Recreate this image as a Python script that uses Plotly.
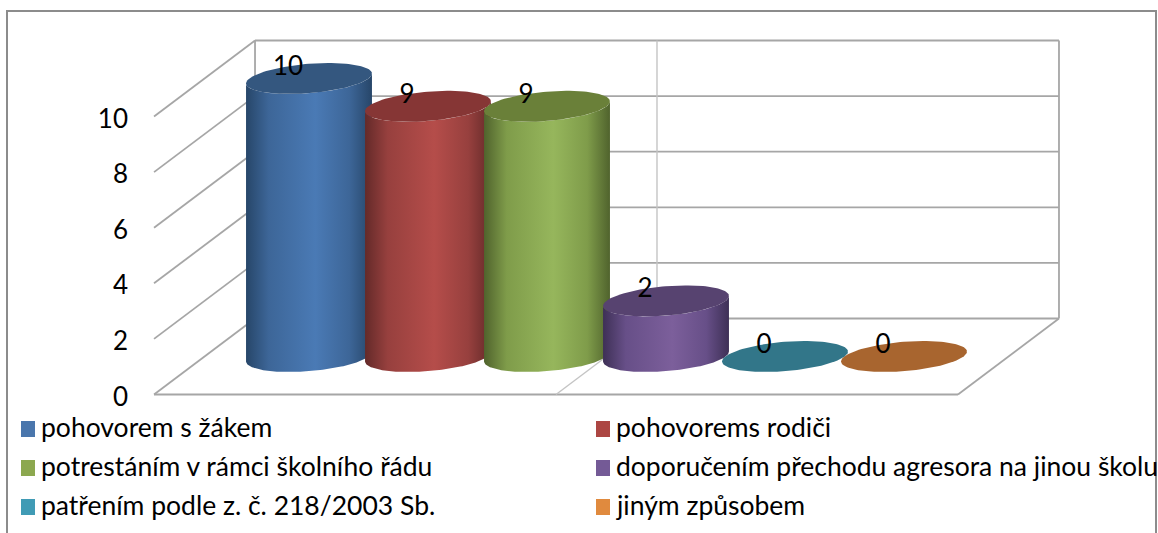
"""3D-look cylinder chart, drawn with an oblique projection on plain cartesian axes."""

import numpy as np
import plotly.graph_objects as go

categories = [
    "pohovorem s žákem",
    "pohovorems rodiči",
    "potrestáním v rámci školního řádu",
    "doporučením přechodu agresora na jinou školu",
    "patřením podle z. č. 218/2003 Sb.",
    "jiným způsobem",
]
values = [10, 9, 9, 2, 0, 0]
value_ticks = [0, 2, 4, 6, 8, 10]

swatch_colors = ["#4A76AC", "#AC4643", "#8CA84F", "#745A96", "#409BB5", "#E08A3E"]
edge_colors = ["#274669", "#642A29", "#50632D", "#3E3056", "#2A5F6E", "#8A5426"]
mid_colors = ["#3D6698", "#97403E", "#7F9C4A", "#674F88", "#3A8AA1", "#C87B38"]
light_colors = ["#4A7AB5", "#B54D4A", "#96B65C", "#7C5F9B", "#47A5BF", "#E8913F"]
top_colors = ["#34577F", "#863635", "#6A8039", "#574370", "#327689", "#A8652F"]

# pixel scale of the axes
W, H = 1158, 533
PX_PER_CAT = 119.0
PX_PER_VALUE = 27.8
CAT0_PX = 309.0
BASE_PX = 394.5

# oblique depth vector and floor extent
DEPTH_X = 101.0 / PX_PER_CAT
DEPTH_Y = 76.0 / PX_PER_VALUE
FLOOR_PAD = 0.878

# cylinder footprint (pixels)
RADIUS_A = 59.7
RADIUS_BX = 20.0
RADIUS_BY = 15.5

FONT = "Lato"
GRID = "#A6A6A6"
GRID_LIGHT = "#C4C4C4"


def project(cat, value, depth):
    return cat + (depth - 0.5) * DEPTH_X, value + depth * DEPTH_Y


def ellipse(cat, value, angles):
    cx, cy = project(cat, value, 0.5)
    x = cx + (RADIUS_A * np.cos(angles) + RADIUS_BX * np.sin(angles)) / PX_PER_CAT
    y = cy + RADIUS_BY * np.sin(angles) / PX_PER_VALUE
    return x, y


def segments(pairs):
    xs, ys = [], []
    for start, end in pairs:
        xs += [start[0], end[0], None]
        ys += [start[1], end[1], None]
    return xs, ys


left = -FLOOR_PAD
right = len(categories) - 1 + FLOOR_PAD
mid = (left + right) / 2
top = value_ticks[-1]

fig = go.Figure()

# back wall and side wall
wall_pairs = []
for tick in value_ticks:
    wall_pairs.append((project(left, tick, 1), project(right, tick, 1)))
    wall_pairs.append((project(left, tick, 0), project(left, tick, 1)))
wall_pairs.append((project(left, 0, 1), project(left, top, 1)))
wall_pairs.append((project(right, 0, 1), project(right, top, 1)))
wall_pairs.append((project(left, 0, 0), project(right, 0, 0)))
wall_pairs.append((project(right, 0, 0), project(right, 0, 1)))
x, y = segments(wall_pairs)
fig.add_trace(go.Scatter(x=x, y=y, mode="lines", line={"color": GRID, "width": 1.8}))

x, y = segments([(project(mid, 0, 1), project(mid, top, 1)), (project(mid, 0, 0), project(mid, 0, 1))])
fig.add_trace(go.Scatter(x=x, y=y, mode="lines", line={"color": GRID_LIGHT, "width": 1.4}))

# cylinders, left to right so each one sits over its neighbour
turn = np.arctan2(RADIUS_BX, RADIUS_A)
for i, value in enumerate(values):
    if value > 0:
        arc = np.linspace(turn, turn - np.pi, 80)
        bx, by = ellipse(i, 0, arc)
        tx, ty = ellipse(i, value, arc[::-1])
        fig.add_trace(
            go.Scatter(
                x=np.concatenate([bx, tx]),
                y=np.concatenate([by, ty]),
                mode="lines",
                line={"width": 0},
                fill="toself",
                fillgradient={
                    "type": "horizontal",
                    "colorscale": [
                        [0, edge_colors[i]],
                        [0.18, mid_colors[i]],
                        [0.55, light_colors[i]],
                        [0.82, mid_colors[i]],
                        [1, edge_colors[i]],
                    ],
                },
            )
        )
    tx, ty = ellipse(i, value, np.linspace(0, 2 * np.pi, 120))
    fig.add_trace(
        go.Scatter(x=tx, y=ty, mode="lines", line={"width": 0}, fill="toself", fillcolor=top_colors[i])
    )

# value labels sit up and left of each top face
label_x, label_y = [], []
for i, value in enumerate(values):
    cx, cy = project(i, value, 0.5)
    label_x.append(cx - 21 / PX_PER_CAT)
    label_y.append(cy + 10 / PX_PER_VALUE)
fig.add_trace(
    go.Scatter(
        x=label_x,
        y=label_y,
        mode="text",
        text=[str(v) for v in values],
        textposition="middle center",
        textfont={"family": FONT, "size": 26, "color": "#000000"},
    )
)

# legend, two columns
shapes = [
    {
        "type": "path",
        "xref": "paper",
        "yref": "paper",
        "path": f"M {7 / W} 0 L {7 / W} {1 - 11 / H} L {1156 / W} {1 - 11 / H} L {1156 / W} 0",
        "line": {"color": "#8C8C8C", "width": 2},
    }
]
annotations = []
for i, name in enumerate(categories):
    col_px = [21, 596][i % 2]
    row_px = [429, 468, 507][i // 2]
    shapes.append(
        {
            "type": "rect",
            "xref": "paper",
            "yref": "paper",
            "x0": col_px / W,
            "x1": (col_px + 14) / W,
            "y0": 1 - (row_px - 8) / H,
            "y1": 1 - (row_px + 8) / H,
            "fillcolor": swatch_colors[i],
            "line": {"width": 0},
        }
    )
    annotations.append(
        {
            "text": name,
            "xref": "paper",
            "yref": "paper",
            "x": (col_px + 18) / W,
            "y": 1 - (row_px - 2) / H,
            "xanchor": "left",
            "yanchor": "middle",
            "showarrow": False,
            "font": {"family": FONT, "size": 26.5, "color": "#000000"},
        }
    )

fig.update_layout(
    width=W,
    height=H,
    autosize=False,
    showlegend=False,
    hovermode=False,
    margin={"l": 0, "r": 0, "t": 0, "b": 0},
    paper_bgcolor="#FFFFFF",
    plot_bgcolor="#FFFFFF",
    shapes=shapes,
    annotations=annotations,
    xaxis={
        "visible": False,
        "range": [-CAT0_PX / PX_PER_CAT, (W - CAT0_PX) / PX_PER_CAT],
    },
    yaxis={
        "range": [-(H - BASE_PX) / PX_PER_VALUE, BASE_PX / PX_PER_VALUE],
        "anchor": "free",
        "position": 128 / W,
        "tickvals": value_ticks,
        "ticks": "",
        "ticklabelshift": 2,
        "showgrid": False,
        "zeroline": False,
        "showline": False,
        "tickfont": {"family": FONT, "size": 26, "color": "#000000"},
    },
)

fig.write_html("out.html", config={"displayModeBar": False}, post_script="document.body.style.margin='0';")
